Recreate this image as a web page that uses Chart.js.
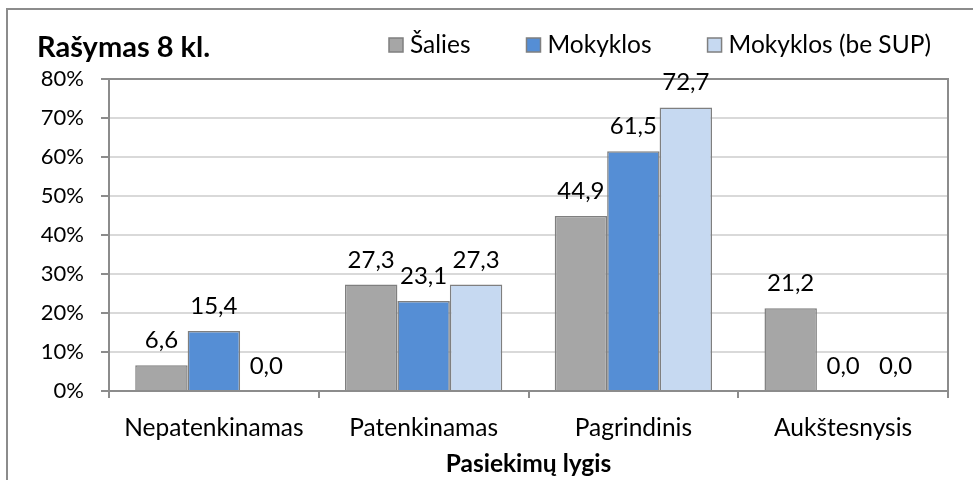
<!DOCTYPE html>
<html>
<head>
<meta charset="utf-8">
<script src="https://cdn.jsdelivr.net/npm/chart.js@4/dist/chart.umd.min.js"></script>
<style>
html,body{margin:0;padding:0;background:#fff;}
#wrap{width:973px;height:480px;position:relative;overflow:hidden;}
</style>
</head>
<body>
<div id="wrap"><canvas id="c" width="973" height="480"></canvas></div>
<script>
// ---- data ----
const chartTitle = 'Rašymas 8 kl.';
const axisTitle = 'Pasiekimų lygis';
const categories = ['Nepatenkinamas', 'Patenkinamas', 'Pagrindinis', 'Aukštesnysis'];
const seriesNames = ['Šalies', 'Mokyklos', 'Mokyklos (be SUP)'];
const salies = [6.6, 27.3, 44.9, 21.2];
const mokyklos = [15.4, 23.1, 61.5, 0.0];
const mokyklosBeSup = [0.0, 27.3, 72.7, 0.0];
const yMin = 0, yMax = 80, yStep = 10;

// ---- style ----
const FONT = 'Lato';
const fillColors = ['#a6a6a6', '#558ed5', '#c6d9f1'];
const edgeColor = '#7f7f7f';

const decor = {
  id: 'decor',
  beforeDraw(chart) {
    const ctx = chart.ctx;
    ctx.save();
    ctx.fillStyle = '#fff';
    ctx.fillRect(0, 0, chart.width, chart.height);
    ctx.strokeStyle = '#8c8c8c';
    ctx.lineWidth = 2;
    ctx.strokeRect(7, 9, chart.width + 20, chart.height + 20);
    ctx.restore();
  },
  afterDatasetsDraw(chart) {
    const ctx = chart.ctx;
    const a = chart.chartArea;
    ctx.save();
    // plot frame (top/right)
    ctx.strokeStyle = '#8c8c8c';
    ctx.lineWidth = 2;
    ctx.beginPath();
    ctx.moveTo(a.left, a.top);
    ctx.lineTo(a.right, a.top);
    ctx.lineTo(a.right, a.bottom);
    ctx.stroke();
    // value labels
    ctx.fillStyle = '#000';
    ctx.font = '24px ' + FONT;
    ctx.textAlign = 'center';
    ctx.textBaseline = 'alphabetic';
    chart.data.datasets.forEach((ds, i) => {
      const meta = chart.getDatasetMeta(i);
      meta.data.forEach((el, j) => {
        const txt = ds.data[j].toFixed(1).replace('.', ',');
        ctx.fillText(txt, el.x, el.y - 17);
      });
    });
    ctx.restore();
  },
  afterDraw(chart) {
    const ctx = chart.ctx;
    ctx.save();
    ctx.fillStyle = '#000';
    ctx.textBaseline = 'middle';
    ctx.textAlign = 'left';
    ctx.font = 'bold 29px ' + FONT;
    ctx.fillText(chartTitle, 37, 48);
    // legend
    ctx.font = '24.5px ' + FONT;
    let x = 389;
    const cy = 45;
    chart.data.datasets.forEach((ds) => {
      ctx.fillStyle = ds.backgroundColor;
      ctx.fillRect(x, cy - 7, 14, 14);
      ctx.strokeStyle = edgeColor;
      ctx.lineWidth = 1.5;
      ctx.strokeRect(x, cy - 7, 14, 14);
      ctx.fillStyle = '#000';
      ctx.fillText(ds.label, x + 21, cy);
      x += 21 + ctx.measureText(ds.label).width + 56;
    });
    ctx.restore();
  }
};

function build() {
  const datasets = [salies, mokyklos, mokyklosBeSup].map((d, i) => ({
    label: seriesNames[i],
    data: d,
    backgroundColor: fillColors[i],
    borderColor: edgeColor,
    borderWidth: 1.5,
    categoryPercentage: 0.75,
    barPercentage: 1.0
  }));
  new Chart(document.getElementById('c'), {
    type: 'bar',
    data: { labels: categories, datasets },
    plugins: [decor],
    options: {
      responsive: false,
      animation: false,
      devicePixelRatio: 1,
      layout: { padding: { top: 79, right: 25, left: 0, bottom: 0 } },
      plugins: { legend: { display: false }, title: { display: false }, tooltip: { enabled: false } },
      scales: {
        x: {
          grid: { display: true, drawOnChartArea: false, drawTicks: true, tickLength: 7, color: '#8c8c8c', offset: true, lineWidth: 2 },
          border: { color: '#8c8c8c', width: 2 },
          ticks: { color: '#000', font: { family: FONT, size: 24.5 }, padding: 15 },
          title: { display: true, text: axisTitle, color: '#000', font: { family: FONT, size: 24.5, weight: 'bold' }, padding: { top: 4, bottom: 1 } },
          afterFit(s) { s.height = 89; }
        },
        y: {
          min: yMin, max: yMax,
          ticks: { stepSize: yStep, color: '#000', font: { family: FONT, size: 22 }, padding: 17, callback: v => v + '%' },
          grid: { color: '#d9d9d9', lineWidth: 2, tickColor: '#8c8c8c', tickLength: 8 },
          border: { color: '#8c8c8c', width: 2 },
          afterFit(s) { s.width = 109; }
        }
      }
    }
  });
}

if (document.fonts && document.fonts.load) {
  Promise.all([document.fonts.load('22px Lato'), document.fonts.load('bold 29px Lato')]).then(build, build);
} else { build(); }
</script>
</body>
</html>
